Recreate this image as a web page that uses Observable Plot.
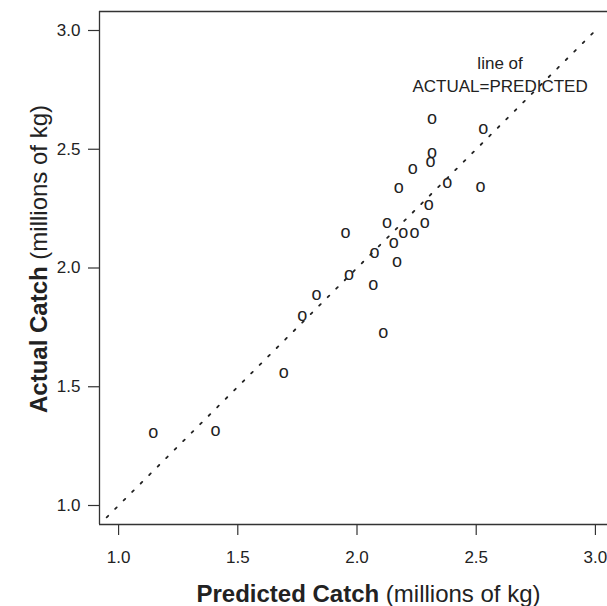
<!DOCTYPE html>
<html>
<head>
<meta charset="utf-8">
<script src="https://cdn.jsdelivr.net/npm/d3@7"></script>
<script src="https://cdn.jsdelivr.net/npm/@observablehq/plot@0.6"></script>
<style>
  html, body { margin: 0; padding: 0; background: #fff; overflow: hidden; }
  #chart { width: 607px; height: 606px; overflow: hidden; }
  #chart svg { max-width: none !important; overflow: hidden; }
</style>
</head>
<body>
<div id="chart"></div>
<script>
// Predicted vs actual catch, millions of kg
const predicted = [1.145, 1.407, 1.693, 1.770, 1.830, 1.952, 1.966, 2.068, 2.073, 2.110,
                   2.126, 2.154, 2.168, 2.175, 2.194, 2.241, 2.234, 2.284, 2.301, 2.308,
                   2.315, 2.315, 2.378, 2.518, 2.529];
const actual    = [1.303, 1.312, 1.558, 1.795, 1.887, 2.146, 1.968, 1.929, 2.062, 1.726,
                   2.188, 2.106, 2.024, 2.335, 2.146, 2.146, 2.414, 2.188, 2.265, 2.447,
                   2.482, 2.625, 2.356, 2.339, 2.583];

const tickValues = [1.0, 1.5, 2.0, 2.5, 3.0];
const xDomain = [0.92, 3.08];
const yDomain = [0.92, 3.08];

// 1:1 reference line
const refX = [0.95, 3.0];
const refY = [0.95, 3.0];

const noteLines = ["line of", "ACTUAL=PREDICTED"];
const noteAt = {x: 2.6, y: 2.908};

const xTitle = ["Predicted Catch", " (millions of kg)"];
const yTitle = ["Actual Catch", " (millions of kg)"];

const catches = predicted.map((p, i) => ({predicted: p, actual: actual[i]}));
const refLine = refX.map((x, i) => ({x, y: refY[i]}));

const font = "'Liberation Sans', Arial, Helvetica, sans-serif";
const fmt = d3.format(".1f");
const edge = {stroke: "#333", strokeWidth: 1.3};

// The plot area runs a few pixels past the right edge of the drawing (negative right margin).
const chart = Plot.plot({
  width: 607,
  height: 606,
  marginLeft: 99,
  marginRight: -7,
  marginTop: 11,
  marginBottom: 82,
  style: {fontFamily: font, fontSize: "17px", color: "#222", background: "#fff", maxWidth: "none"},
  x: {domain: xDomain},
  y: {domain: yDomain},
  marks: [
    // box edges: left, bottom and top
    Plot.ruleX([xDomain[0]], edge),
    Plot.ruleY(yDomain, edge),
    Plot.axisX({ticks: tickValues, tickFormat: fmt, tickSize: 11, tickPadding: 15,
                label: null, fontSize: 17, stroke: "#333", strokeWidth: 1.2}),
    Plot.axisY({ticks: tickValues, tickFormat: fmt, tickSize: 11, tickPadding: 8,
                label: null, fontSize: 17, stroke: "#333", strokeWidth: 1.2}),
    Plot.line(refLine, {x: "x", y: "y", stroke: "#222", strokeWidth: 1.8,
                        strokeDasharray: "2.2 9.8"}),
    Plot.text(catches, {x: "predicted", y: "actual", text: () => "o",
                        fontSize: 18, fill: "#222", dy: -1}),
    Plot.text([noteLines.join("\n")], {x: () => noteAt.x, y: () => noteAt.y, text: d => d,
                        lineAnchor: "top", lineHeight: 1.35, fontSize: 17, fill: "#222"})
  ]
});

// Axis titles: bold quantity name followed by the plain unit
const svg = d3.select(chart);
const xt = svg.append("text")
  .attr("x", 368.5).attr("y", 602)
  .attr("text-anchor", "middle")
  .attr("font-family", font).attr("font-size", 24).attr("fill", "#222");
xt.append("tspan").attr("font-weight", "bold").text(xTitle[0]);
xt.append("tspan").text(xTitle[1]);

const yt = svg.append("text")
  .attr("transform", "translate(47,259) rotate(-90)")
  .attr("text-anchor", "middle")
  .attr("font-family", font).attr("font-size", 24).attr("fill", "#222");
yt.append("tspan").attr("font-weight", "bold").text(yTitle[0]);
yt.append("tspan").text(yTitle[1]);

document.getElementById("chart").appendChild(chart);
</script>
</body>
</html>
